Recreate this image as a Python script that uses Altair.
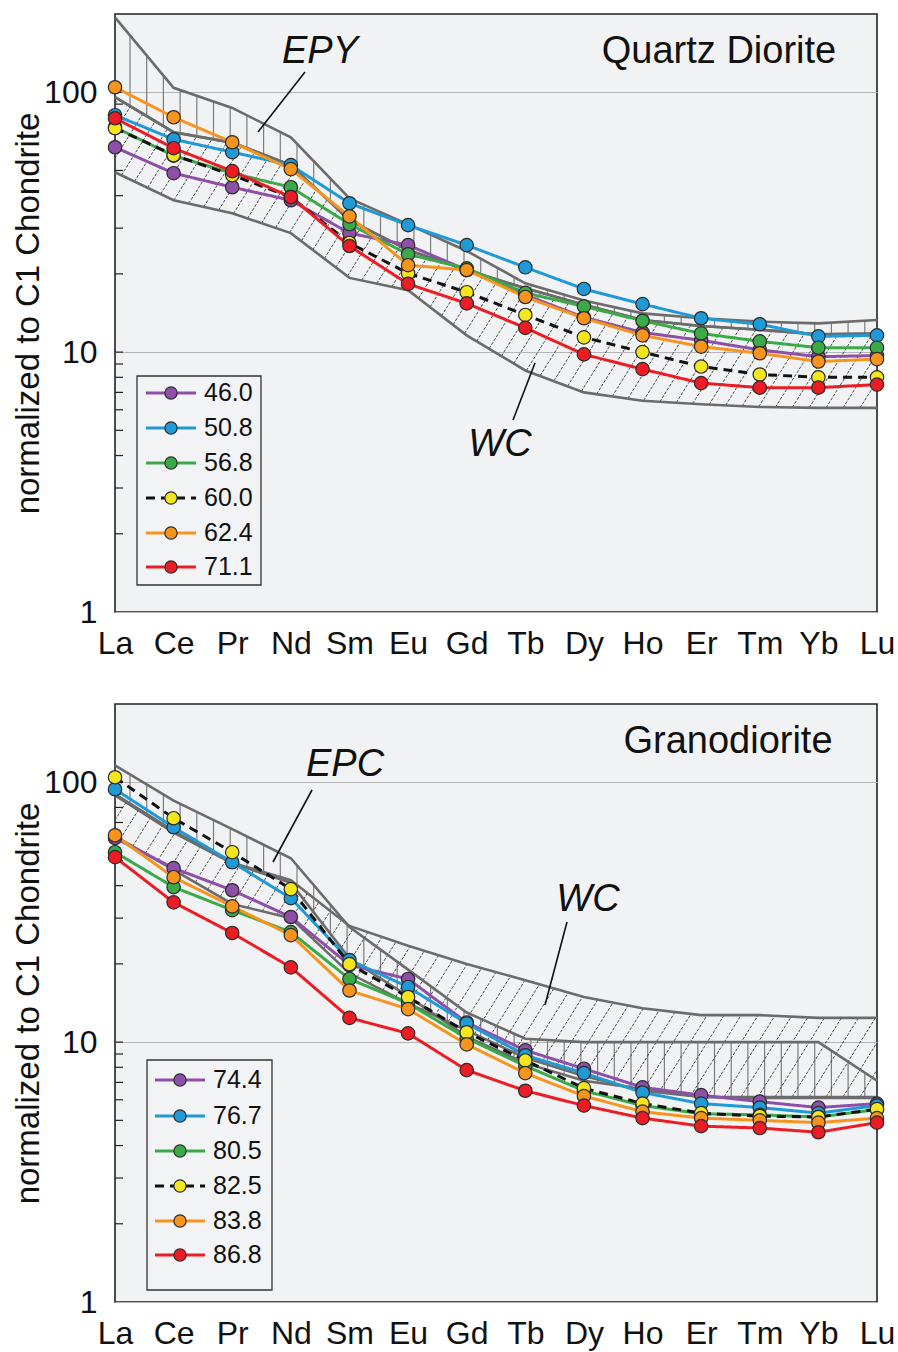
import json
import numpy as np
import pandas as pd
import altair as alt

FONT = "Liberation Sans"

ELEMENTS = ["La", "Ce", "Pr", "Nd", "Sm", "Eu", "Gd", "Tb", "Dy", "Ho", "Er", "Tm", "Yb", "Lu"]

# ---- Quartz diorite (chondrite-normalized REE) ----
QD_NAMES = ["46.0", "50.8", "56.8", "60.0", "62.4", "71.1"]
QD_46_0 = [61.4, 48.8, 43.1, 38.4, 28.7, 25.8, 20.7, 16.6, 13.6, 11.9, 11.1, 10.2, 9.6, 9.7]
QD_50_8 = [81.6, 65.9, 58.8, 52.4, 37.4, 30.8, 25.8, 21.2, 17.5, 15.3, 13.5, 12.8, 11.5, 11.6]
QD_56_8 = [73.3, 57.0, 48.8, 43.1, 31.1, 23.8, 21.0, 16.9, 15.0, 13.2, 11.8, 11.0, 10.4, 10.4]
QD_60_0 = [72.7, 57.3, 48.0, 39.5, 26.3, 20.1, 17.0, 13.9, 11.4, 10.0, 8.8, 8.2, 8.0, 8.0]
QD_62_4 = [104.5, 80.1, 64.2, 50.6, 33.3, 21.6, 20.7, 16.3, 13.5, 11.6, 10.5, 9.9, 9.2, 9.4]
QD_71_1 = [79.4, 60.9, 49.7, 39.5, 25.6, 18.3, 15.4, 12.4, 9.8, 8.6, 7.6, 7.3, 7.3, 7.5]

# reference fields, quartz diorite panel
EPY_UPPER = [194, 104, 87, 67, 39, 31, 24.5, 18.4, 15.8, 14.1, 13.5, 13.1, 12.9, 13.3]
EPY_LOWER = [95.7, 70.2, 64, 52.4, 32.2, 24.7, 20.7, 17.6, 15.2, 13.3, 12.6, 12.2, 11.7, 11.8]
WC_QD_UPPER = EPY_LOWER
WC_QD_LOWER = [49.2, 38.4, 34.2, 28.7, 19.3, 17.3, 11.6, 8.5, 7.0, 6.5, 6.3, 6.15, 6.1, 6.1]

# ---- Granodiorite ----
GD_NAMES = ["74.4", "76.7", "80.5", "82.5", "83.8", "86.8"]
GD_74_4 = [61, 46.7, 38.4, 30.3, 19.8, 17.5, 11.9, 9.3, 7.9, 6.7, 6.25, 5.9, 5.6, 5.8]
GD_76_7 = [94, 67.1, 49.2, 35.8, 20.7, 16.3, 11.8, 8.9, 7.6, 6.4, 5.8, 5.6, 5.33, 5.7]
GD_80_5 = [53.8, 39.5, 32.2, 26.5, 17.5, 14.1, 10.35, 8.1, 6.5, 5.7, 5.3, 5.25, 5.15, 5.5]
GD_82_5 = [104.5, 72.7, 53.8, 38.8, 19.95, 14.9, 10.9, 8.5, 6.65, 5.8, 5.33, 5.19, 5.15, 5.52]
GD_83_8 = [62.5, 43.1, 33.3, 25.8, 15.8, 13.4, 9.8, 7.6, 6.2, 5.4, 5.1, 5.0, 4.9, 5.1]
GD_86_8 = [51.5, 34.5, 26.3, 19.4, 12.4, 10.8, 7.8, 6.5, 5.7, 5.1, 4.75, 4.67, 4.5, 4.9]

EPC_UPPER = [116, 85, 66, 51, 27.7, 19, 13, 10.3, 10, 10, 10, 10, 10, 7.1]
EPC_LOWER = [89, 64, 48.8, 41, 21, 15, 10.5, 8.3, 7.1, 6.6, 6.15, 6.1, 6.1, 6.1]
WC_GD_UPPER = [90, 65, 49, 42, 28, 23.5, 20, 17.3, 14.9, 13.5, 12.7, 12.7, 12.4, 12.4]
WC_GD_LOWER = [62, 46, 34, 30, 18.4, 14.1, 11.1, 8.7, 7.4, 6.5, 6.15, 6.15, 6.15, 6.15]

LINE_COLORS = ["#8e4fa8", "#1f9ad6", "#3aaa48", "#111111", "#f7941e", "#ec1c24"]
FILL_COLORS = ["#8e4fa8", "#1f9ad6", "#3aaa48", "#f4e51c", "#f7941e", "#ec1c24"]
DASHES = [[1, 0], [1, 0], [1, 0], [9, 6], [1, 0], [1, 0]]

# plot-area geometry
W, H = 762, 598
YMAX = 200
N = len(ELEMENTS) - 1
PX_X = W / N
PX_DEC = H / np.log10(YMAX)
XS = np.arange(len(ELEMENTS))


def to_data(px, py):
    """Plot-area pixel offset -> (element index, normalized value)."""
    return px / PX_X, 10 ** ((H - py) / PX_DEC)


def log_interp(vals, x):
    return np.interp(x, XS, np.log10(vals))


def vertical_hatch(lower, upper, step_px=16.7, offset_px=15):
    xs = np.arange(offset_px, W, step_px) / PX_X
    lo, hi = log_interp(lower, xs), log_interp(upper, xs)
    keep = hi - lo > 0.004
    return pd.DataFrame({"x": xs[keep], "x2": xs[keep], "y": 10 ** lo[keep], "y2": 10 ** hi[keep]})


def diagonal_hatch(lower, upper, slope=1.6, step_px=17.0):
    s = slope * PX_X / PX_DEC
    grid = np.linspace(0, N, 5201)
    lo, hi = log_interp(lower, grid), log_interp(upper, grid)
    dc = s * step_px / PX_X
    rows = []
    for c in np.arange((lo - s * grid).min(), (hi - s * grid).max(), dc):
        line = c + s * grid
        inside = (line >= lo) & (line <= hi)
        edges = np.flatnonzero(np.diff(np.r_[0, inside.astype(int), 0]))
        for a, b in zip(edges[::2], edges[1::2]):
            if b - 1 > a:
                rows.append({"x": grid[a], "y": 10 ** line[a], "x2": grid[b - 1], "y2": 10 ** line[b - 1]})
    return pd.DataFrame(rows)


def X(field):
    return alt.X(
        field, type="quantitative",
        scale=alt.Scale(domain=[0, N], nice=False, zero=False),
        axis=alt.Axis(
            values=list(range(len(ELEMENTS))),
            labelExpr=json.dumps(ELEMENTS) + "[datum.value]",
            ticks=False, domain=False, grid=False, title=None,
            labelFont=FONT, labelFontSize=32, labelColor="#111",
            labelPadding=16, labelFlush=False, labelOverlap=False, labelBound=False,
        ),
    )


def Y(field):
    return alt.Y(
        field, type="quantitative",
        scale=alt.Scale(type="log", domain=[1, YMAX], nice=False),
        axis=alt.Axis(
            values=[1, 10, 100], format="~g",
            ticks=False, domain=False, grid=True,
            gridColor="#b4b4b4", gridWidth=1.2,
            labelFont=FONT, labelFontSize=32, labelColor="#111", labelPadding=18,
            title="normalized to C1 Chondrite",
            titleFont=FONT, titleFontSize=33, titleFontWeight="normal", titleColor="#111",
            titleX=-87, titleY=H / 2, titleAngle=270, titleAlign="center", titleBaseline="middle",
        ),
    )


def panel(title, title_pos, names, series, fields, labels, leaders, legend):
    long = pd.DataFrame(
        [{"x": i, "value": v, "series": n, "k": k}
         for k, (n, vals) in enumerate(zip(names, series)) for i, v in enumerate(vals)]
    )
    stroke = alt.Stroke("series:N", scale=alt.Scale(domain=names, range=LINE_COLORS), legend=None)
    fill = alt.Fill("series:N", scale=alt.Scale(domain=names, range=FILL_COLORS), legend=None)
    dash = alt.StrokeDash("series:N", scale=alt.Scale(domain=names, range=DASHES), legend=None)

    layers = []
    # hatched reference fields
    for lower, upper, kind in fields:
        if kind == "vertical":
            hd = vertical_hatch(lower, upper)
            layers.append(alt.Chart(hd).mark_rule(stroke="#7c7c7c", strokeWidth=1.2).encode(
                x=X("x"), x2="x2", y=Y("y"), y2="y2"))
        else:
            hd = diagonal_hatch(lower, upper)
            layers.append(alt.Chart(hd).mark_rule(stroke="#4a4a4a", strokeWidth=1.0, strokeDash=[3, 1.5]).encode(
                x=X("x"), x2="x2", y=Y("y"), y2="y2"))
    bounds = []
    for j, (lower, upper, _) in enumerate(fields):
        for side, vals in (("lo", lower), ("hi", upper)):
            bounds += [{"x": i, "v": v, "b": f"{j}{side}"} for i, v in enumerate(vals)]
    layers.append(alt.Chart(pd.DataFrame(bounds)).mark_line(stroke="#6b6b6b", strokeWidth=2.6).encode(
        x=X("x"), y=Y("v"), detail="b:N"))

    # inward minor ticks on the log axis
    minor = pd.DataFrame({"t": [m * d for d in (1, 10) for m in range(2, 10)] + [10, 100]})
    layers.append(alt.Chart(minor).mark_rule(stroke="#222", strokeWidth=1.2).encode(
        y=Y("t"), x=alt.value(0), x2=alt.value(8)))

    # leader lines for field labels
    layers.append(alt.Chart(pd.DataFrame(leaders)).mark_rule(stroke="#111", strokeWidth=1.6).encode(
        x=X("x"), x2="x2", y=Y("y"), y2="y2"))

    # sample patterns
    layers.append(alt.Chart(long).mark_line(strokeWidth=3).encode(
        x=X("x"), y=Y("value"), stroke=stroke, strokeDash=dash))
    layers.append(alt.Chart(long).mark_point(filled=True, shape="circle", size=180, opacity=1,
                                             stroke="#2b2b2b", strokeWidth=1.2).encode(
        x=X("x"), y=Y("value"), fill=fill, order="k:Q"))

    # legend box
    (bx0, by0, bx1, by1), rows_py, lx0, lx1, tx = legend
    x0, y0 = to_data(bx0, by0)
    x1, y1 = to_data(bx1, by1)
    box = pd.DataFrame([{"x": x0, "x2": x1, "y": y0, "y2": y1}])
    layers.append(alt.Chart(box).mark_rect(fill="#f2f3f5", stroke="#333", strokeWidth=1.3).encode(
        x=X("x"), x2="x2", y=Y("y"), y2="y2"))
    leg = pd.DataFrame([
        {"series": n, "k": k,
         "x": to_data(lx0, 0)[0], "x2": to_data(lx1, 0)[0],
         "xc": to_data((lx0 + lx1) / 2, 0)[0], "xt": to_data(tx, 0)[0],
         "y": to_data(0, py)[1]}
        for k, (n, py) in enumerate(zip(names, rows_py))
    ])
    layers.append(alt.Chart(leg).mark_rule(strokeWidth=3).encode(
        x=X("x"), x2="x2", y=Y("y"), stroke=stroke, strokeDash=dash))
    layers.append(alt.Chart(leg).mark_point(filled=True, shape="circle", size=150, opacity=1,
                                            stroke="#2b2b2b", strokeWidth=1.2).encode(
        x=X("xc"), y=Y("y"), fill=fill))
    layers.append(alt.Chart(leg).mark_text(align="left", baseline="middle", font=FONT,
                                           fontSize=25, color="#111").encode(
        x=X("xt"), y=Y("y"), text="series:N"))

    # panel title and field names
    tx_, ty_ = to_data(*title_pos)
    layers.append(alt.Chart(pd.DataFrame([{"x": tx_, "y": ty_, "t": title}])).mark_text(
        align="center", baseline="middle", font=FONT, fontSize=38, color="#111").encode(
        x=X("x"), y=Y("y"), text="t:N"))
    lab = pd.DataFrame([{"x": to_data(px, py)[0], "y": to_data(px, py)[1], "t": t} for t, px, py in labels])
    layers.append(alt.Chart(lab).mark_text(
        align="center", baseline="middle", font=FONT, fontSize=38, fontStyle="italic", color="#111").encode(
        x=X("x"), y=Y("y"), text="t:N"))

    return alt.layer(*layers).properties(width=W, height=H)


def leader(p, q):
    (x, y), (x2, y2) = to_data(*p), to_data(*q)
    return {"x": x, "y": y, "x2": x2, "y2": y2}


top = panel(
    "Quartz Diorite", (604, 38),
    QD_NAMES, [QD_46_0, QD_50_8, QD_56_8, QD_60_0, QD_62_4, QD_71_1],
    [(EPY_LOWER, EPY_UPPER, "vertical"), (WC_QD_LOWER, WC_QD_UPPER, "diagonal")],
    [("EPY", 205, 38), ("WC", 385, 431)],
    [leader((190, 58), (143, 118)), leader((420, 349), (398, 406))],
    ((22, 362, 146, 571), [379, 414, 449, 484, 519, 553], 31, 81, 89),
)

bottom = panel(
    "Granodiorite", (613, 38),
    GD_NAMES, [GD_74_4, GD_76_7, GD_80_5, GD_82_5, GD_83_8, GD_86_8],
    [(EPC_LOWER, EPC_UPPER, "vertical"), (WC_GD_LOWER, WC_GD_UPPER, "diagonal")],
    [("EPC", 230, 61), ("WC", 473, 196)],
    [leader((197, 86), (158, 158)), leader((452, 218), (430, 301))],
    ((32, 356, 157, 586), [376, 412, 447, 482, 517, 551], 40, 90, 98),
)

chart = alt.vconcat(top, bottom, spacing=92, bounds="flush").properties(
    padding={"left": 11, "top": 11, "right": 0, "bottom": 4},
    background="white",
).configure_view(
    fill="#f1f2f4", stroke="#222", strokeWidth=1.6,
)

chart.save("out.html", embed_options={"renderer": "svg", "actions": False})
